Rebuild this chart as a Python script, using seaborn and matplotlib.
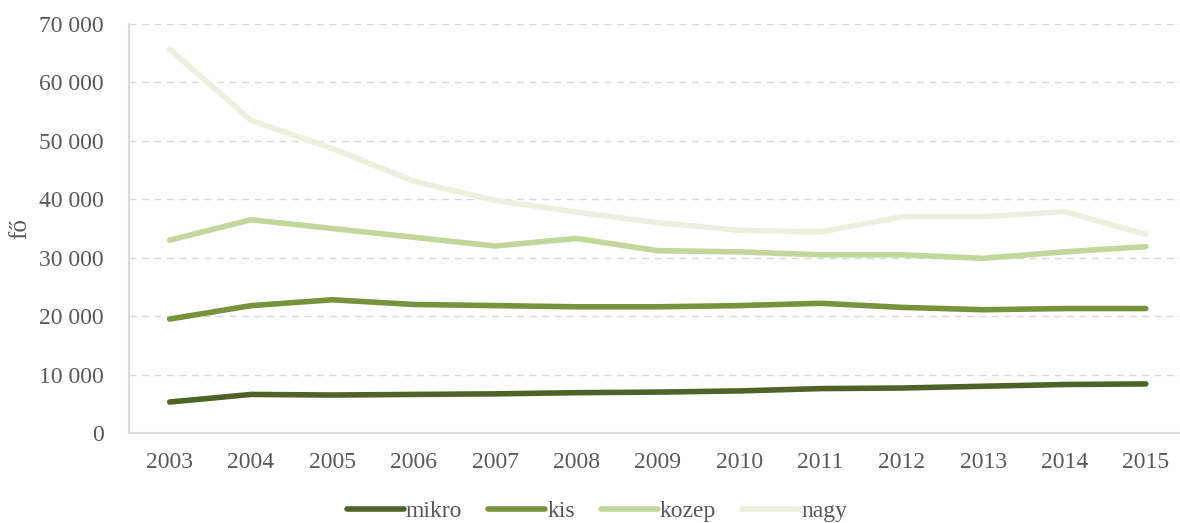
import matplotlib
matplotlib.use("Agg")
import matplotlib.pyplot as plt
import seaborn as sns
import pandas as pd
import numpy as np

years = [str(y) for y in range(2003, 2016)]
mikro = [5300, 6600, 6500, 6600, 6700, 6900, 7000, 7200, 7600, 7700, 8000, 8300, 8400]
kis = [19500, 21800, 22800, 22000, 21800, 21600, 21600, 21800, 22200, 21500, 21100, 21300, 21300]
kozep = [33000, 36500, 35000, 33500, 32000, 33300, 31200, 31000, 30500, 30500, 29900, 31000, 31900]
nagy = [65700, 53500, 48700, 43100, 39800, 37800, 36000, 34700, 34400, 37000, 37000, 37900, 34000]
series_names = ["mikro", "kis", "kozep", "nagy"]
colors = ["#4f6228", "#77933c", "#c3d69b", "#ebf1de"]
yticks = [0, 10000, 20000, 30000, 40000, 50000, 60000, 70000]

sns.set_theme(style="white")
plt.rcParams["font.family"] = ["Liberation Serif", "DejaVu Serif"]

df = pd.DataFrame({"year": years * 4,
                   "x": list(range(len(years))) * 4,
                   "value": mikro + kis + kozep + nagy,
                   "series": sum([[n] * len(years) for n in series_names], [])})

fig = plt.figure(figsize=(11.8, 5.23), dpi=100)
ax = fig.add_axes([129 / 1180, 1 - 433 / 523, 1 - 129 / 1180, (433 - 24) / 523])
sns.lineplot(data=df, x="x", y="value", hue="series", palette=colors,
             hue_order=series_names, linewidth=4, ax=ax, solid_capstyle="round")

ax.set_xlim(-0.5, 12.42)
ax.set_ylim(0, 70000)
ax.set_xticks(range(len(years)))
ax.set_xticklabels(years)
ax.set_yticks(yticks)
ax.set_yticklabels([f"{v:,}".replace(",", " ") for v in yticks])
ax.tick_params(axis="both", labelsize=17, colors="#595959", length=0)
ax.tick_params(axis="x", pad=14)
ax.tick_params(axis="y", pad=18)
ax.set_xlabel("")
ax.set_ylabel("fő", fontsize=18, color="#595959", labelpad=6)
ax.yaxis.grid(True, linestyle=(0, (5, 4)), color="#d9d9d9", linewidth=1)
ax.set_axisbelow(True)
for s in ["top", "right"]:
    ax.spines[s].set_visible(False)
for s in ["left", "bottom"]:
    ax.spines[s].set_color("#d9d9d9")
    ax.spines[s].set_linewidth(1.5)

ax.get_legend().remove()
handles, labels = ax.get_legend_handles_labels()
leg = fig.legend(handles, labels, loc="center", bbox_to_anchor=(597 / 1180, 1 - 511 / 523),
                 ncol=4, frameon=False, fontsize=17, handlelength=2.4,
                 handletextpad=0.1, columnspacing=1.1, labelcolor="#595959")
for line in leg.get_lines():
    line.set_linewidth(4)
    line.set_solid_capstyle("round")

fig.savefig("out.png", dpi=100)
